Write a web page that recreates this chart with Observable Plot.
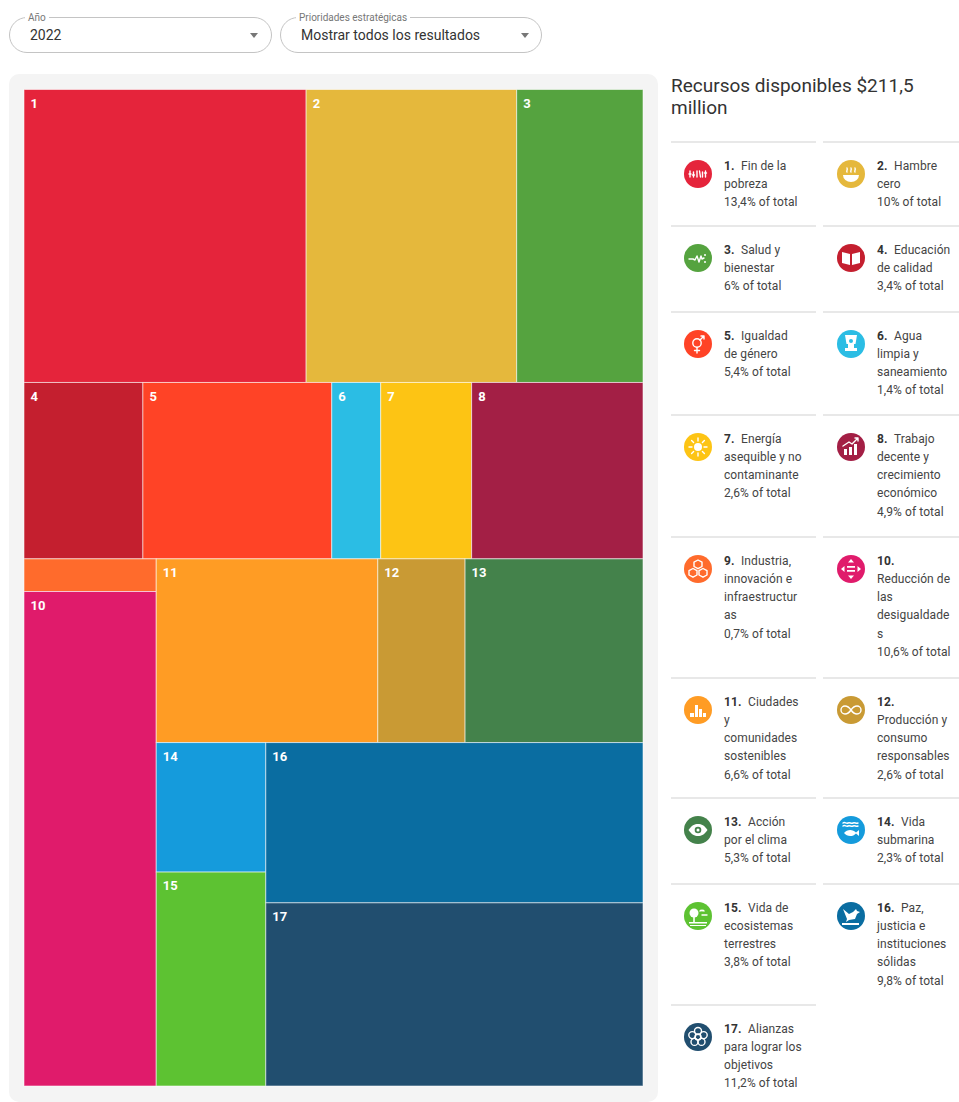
<!DOCTYPE html>
<html lang="es">
<head>
<meta charset="utf-8">
<title>Recursos disponibles</title>
<script src="https://cdn.jsdelivr.net/npm/d3@7"></script>
<script src="https://cdn.jsdelivr.net/npm/@observablehq/plot@0.6"></script>
<style>
  html, body { margin: 0; padding: 0; background: #fff; }
  body { width: 959px; height: 1102px; position: relative; overflow: hidden; font-family: Roboto, sans-serif; color: #444; }
  .select { position: absolute; top: 17px; height: 34px; border: 1px solid #c4c4c4; border-radius: 18px; box-sizing: content-box; }
  .select .lab { position: absolute; top: -6px; left: 15px; padding: 0 3px; background: #fff; font-size: 10px; line-height: 12px; color: #777; }
  .select .val { position: absolute; top: 8px; font-size: 14px; line-height: 18px; color: #333; }
  .select .arrow { position: absolute; top: 15px; width: 0; height: 0; border-left: 4.5px solid transparent; border-right: 4.5px solid transparent; border-top: 5px solid #777; }
  #chart { position: absolute; left: 9px; top: 74px; }
  h2 { position: absolute; left: 671px; top: 75px; width: 260px; margin: 0; font-weight: 400; font-size: 19px; line-height: 22px; color: #333; }
  #legend { position: absolute; left: 671px; top: 141px; width: 288px; display: grid; grid-template-columns: 145px 136px; grid-template-rows: 84px 86px 103px 122px 141px 120px 86px 121px auto; column-gap: 7px; align-items: stretch; }
  .cell { position: relative; border-top: 2px solid #e8e8e8; padding: 13.5px 0 0 53px; font-size: 12px; line-height: 18.3px; color: #444; box-sizing: border-box; }
  .cell.c2 { padding-left: 54px; }
  .cell .ln { white-space: nowrap; letter-spacing: .08px; height: 18.3px; }
  .cell b { color: #333; font-weight: 700; }
  .cell svg { position: absolute; left: 13px; top: 17px; }
  .cell.c2 svg { left: 14px; }
</style>
</head>
<body>
<div class="select" style="left:9px;width:261px"><span class="lab">Año</span><span class="val" style="left:20px">2022</span><span class="arrow" style="left:240px"></span></div>
<div class="select" style="left:280px;width:260px"><span class="lab">Prioridades estratégicas</span><span class="val" style="left:20px">Mostrar todos los resultados</span><span class="arrow" style="left:240px"></span></div>
<div id="chart"></div>
<h2>Recursos disponibles $211,5 million</h2>
<div id="legend"></div>
<script>
const ids = [1,2,3,4,5,6,7,8,9,10,11,12,13,14,15,16,17];
const shares = [13.4,10,6,3.4,5.4,1.4,2.6,4.9,0.7,10.6,6.6,2.6,5.3,2.3,3.8,9.8,11.2];
const shareLabels = ["13,4","10","6","3,4","5,4","1,4","2,6","4,9","0,7","10,6","6,6","2,6","5,3","2,3","3,8","9,8","11,2"];
const names = [
  "Fin de la\npobreza","Hambre\ncero","Salud y\nbienestar","Educación\nde calidad","Igualdad\nde género",
  "Agua\nlimpia y\nsaneamiento","Energía\nasequible y no\ncontaminante","Trabajo\ndecente y\ncrecimiento\neconómico",
  "Industria,\ninnovación e\ninfraestructur\nas","\nReducción de\nlas\ndesigualdade\ns","Ciudades\ny\ncomunidades\nsostenibles",
  "\nProducción y\nconsumo\nresponsables","Acción\npor el clima","Vida\nsubmarina","Vida de\necosistemas\nterrestres",
  "Paz,\njusticia e\ninstituciones\nsólidas","Alianzas\npara lograr los\nobjetivos"
];
const colors = ["#e5243b","#e5b83c","#55a33f","#c41f2f","#ff4326","#2bbde4","#fdc414","#a31f45","#ff6b2c","#e01b6b","#ff9c24","#c99a34","#44824b","#159bdc","#5dc232","#0a6da1","#214e6f"];
// Nesting order of the treemap groups (rows, then columns, then rows...)
const nesting = [[1,2,3],[4,5,6,7,8],[[9,10],[[11,12,13],[[14,15],[16,17]]]]];

const toNode = n => Array.isArray(n) ? {children: n.map(toNode)} : {id: n, value: shares[n - 1]};
const root = d3.hierarchy(toNode(nesting)).sum(d => d.value || 0);
d3.treemap()
  .size([1, 1]).round(false).paddingInner(0)
  .tile((node, x0, y0, x1, y1) => (node.depth % 2 ? d3.treemapDice : d3.treemapSlice)(node, x0, y0, x1, y1))(root);
const cells = root.leaves().map(l => ({id: l.data.id, x0: l.x0, x1: l.x1, y0: l.y0, y1: l.y1, value: l.value, color: colors[l.data.id - 1]}));

const plot = Plot.plot({
  width: 649, height: 1028,
  marginLeft: 15, marginRight: 15, marginTop: 15.5, marginBottom: 16,
  x: {domain: [0, 1], axis: null},
  y: {domain: [0, 1], reverse: true, axis: null},
  style: {background: "#f4f4f4", borderRadius: "10px", display: "block"},
  marks: [
    Plot.rect(cells, {x1: "x0", x2: "x1", y1: "y0", y2: "y1", fill: "color", stroke: "#fff", strokeOpacity: 0.55, strokeWidth: 1}),
    Plot.text(cells.filter(d => d.value >= 1), {
      x: "x0", y: "y0", text: d => String(d.id), dx: 6, dy: 13.5, textAnchor: "start", lineAnchor: "middle",
      fill: "#fff", fontFamily: "Roboto, sans-serif", fontWeight: 700, fontSize: 13
    })
  ]
});
document.getElementById("chart").appendChild(plot);

// Small white pictograms for the legend discs
const w = 'fill="none" stroke="#fff" stroke-width="1.4" stroke-linecap="round" stroke-linejoin="round"';
const f = 'fill="#fff"';
const icons = [
  `<path ${w} stroke-width="1.3" d="M6 11v6M5 14h2M9.5 12v5M8.5 15h2M13 11v6M15.5 11l1 6M18.5 12v5M21.5 11v6M20.5 13h2"/>`,
  `<path ${f} d="M6 15h16a8 7 0 0 1-16 0z"/><path ${w} stroke-width="1" d="M10 12c-1-1 1-2 0-4M14 12c-1-1 1-2 0-4M18 12c-1-1 1-2 0-4"/>`,
  `<path ${w} stroke-width="1.1" d="M5 15h4l2 1 2-4 2 6 2-6 1 3 2-1"/><circle cx="21" cy="11" r="1" ${f}/><circle cx="21" cy="18" r="1" ${f}/>`,
  `<path ${f} d="M5 8l8 2v11l-8-2zM23 8l-8 2v11l8-2z"/>`,
  `<circle cx="13" cy="13" r="4.2" ${w}/><path ${w} d="M13 17.5V23M10.5 20.5h5M16 10l4-4M17 6h3v3"/>`,
  `<path ${f} d="M8 5h12l-1.5 9h-1.5v4h3v3H8v-3h3v-4H9.5z"/><circle cx="14" cy="11" r="2" fill="#2bbde4"/>`,
  `<circle cx="14" cy="14" r="4" ${f}/><path ${w} stroke-width="1" d="M14 5v3M14 20v3M5 14h3M20 14h3M7.6 7.6l2 2M18.4 18.4l2 2M7.6 20.4l2-2M18.4 9.6l2-2"/>`,
  `<path ${f} d="M7 16h3v6H7zM12 14h3v8h-3zM17 11h3v11h-3z"/><path ${w} d="M6 13l6-4 3 2 6-6M18 5h3v3"/>`,
  `<path ${w} d="M14 5l4 2.2v4.3L14 13.7l-4-2.2V7.2zM9 13.5l4 2.2v4.3L9 22.2 5 20v-4.3zM19 13.5l4 2.2V20l-4 2.2-4-2.2v-4.3z"/>`,
  `<path ${f} d="M10 11h8v1.8h-8zM10 15h8v1.8h-8zM14 4l3 3.5h-6zM14 24l-3-3.5h6zM4 14l3.5-3v6zM24 14l-3.5-3v6z"/>`,
  `<path ${f} d="M6 17h4v4H6zM11 9h3v12h-3zM15 13h3v8h-3zM19 17h3v4h-3z"/>`,
  `<path ${w} stroke-width="1.8" d="M14 14c-2-3-4-4-6-4a4 4 0 0 0 0 8c2 0 4-1 6-4s4-4 6-4a4 4 0 0 1 0 8c-2 0-4-1-6-4z"/>`,
  `<path ${f} d="M4.5 14c3-4.5 6-6 9.5-6s6.500 1.500 9.500 6c-3 4.500-6 6-9.500 6s-6.500-1.500-9.500-6z"/><circle cx="14" cy="14" r="3.300" fill="#44824b"/><circle cx="14" cy="14" r="1.500" ${f}/>`,
  `<path ${w} stroke-width="1" d="M6 7c2-1.500 3 1 5 0s3 1 5 0 3 1 5 0M6 10c2-1.500 3 1 5 0s3 1 5 0 3 1 5 0"/><path ${f} d="M7 17c3-4 9-4 12-.5l3-2.500v6l-3-2.500c-3 3.500-9 3.500-12-.5z"/>`,
  `<circle cx="10" cy="11" r="4.500" ${f}/><path ${f} d="M9.200 14h1.600v6H9.200zM5 20h18v1.500H5zM6 23h16v1H6z"/><path ${w} stroke-width="1" d="M16 9c1-1 1.500-1 2 0 .5-1 1-1 2 0M18 13h5"/>`,
  `<path ${f} d="M6 7l6 5 4-2 3-3 1 2 3 1-3 2-2 5-6 1-3 2 1-3zM5 21h17v2H5z"/>`,
  `<circle cx="14" cy="14" r="3" ${w} stroke-width="1"/><g ${w} stroke-width="1"><circle cx="14" cy="8" r="3.500"/><circle cx="19.700" cy="12.100" r="3.500"/><circle cx="17.500" cy="18.900" r="3.500"/><circle cx="10.500" cy="18.900" r="3.500"/><circle cx="8.300" cy="12.100" r="3.500"/></g>`
];

const legend = d3.select("#legend");
ids.forEach((id, i) => {
  const cell = legend.append("div").attr("class", "cell" + (i % 2 ? " c2" : ""));
  cell.html(`<svg width="28" height="28" viewBox="0 0 28 28"><circle cx="14" cy="14" r="14" fill="${colors[i]}"/>${icons[i]}</svg>`);
  const parts = names[i].split("\n");
  parts.forEach((p, k) => {
    const ln = cell.append("div").attr("class", "ln");
    if (k === 0) {
      ln.append("b").text(id + ".");
      if (p) ln.append("span").style("margin-left", "6.5px").text(p);
    } else {
      ln.text(p);
    }
  });
  cell.append("div").attr("class", "ln").text(`${shareLabels[i]}% of total`);
});
</script>
</body>
</html>
